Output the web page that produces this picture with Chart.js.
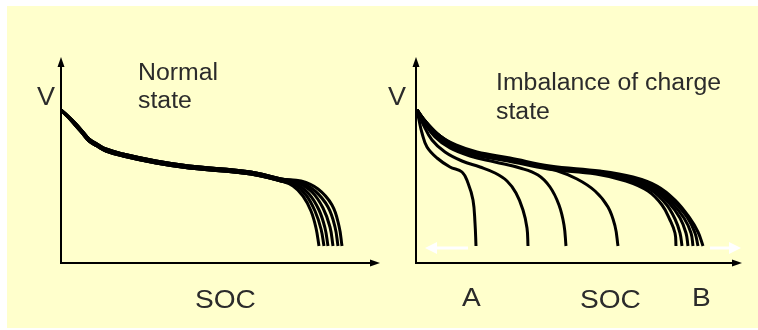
<!DOCTYPE html>
<html>
<head>
<meta charset="utf-8">
<script src="https://cdn.jsdelivr.net/npm/chart.js@4.4.0/dist/chart.umd.min.js"></script>
<style>
    body { margin: 0; background: #fff; }
    #frame { position: relative; width: 758px; height: 330px; overflow: hidden; }
    #paper { position: absolute; left: 7px; top: 6px; width: 751px; height: 322px; background: #ffffcc; }
    #leftBox { position: absolute; left: 0; top: 0; width: 390px; height: 330px; }
    #rightBox { position: absolute; left: 379px; top: 0; width: 379px; height: 330px; }
</style>
</head>
<body>
<div id="frame">
    <div id="paper"></div>
    <div id="leftBox"><canvas id="normalChart"></canvas></div>
    <div id="rightBox"><canvas id="imbalanceChart"></canvas></div>
</div>
<script>
// SOC and V in arbitrary units, [soc, volt]
// normal state: six cells, same curve, small spread at the end
let normalHeadLow = [[0,153],[7,146],[15,137],[22,129],[28,122],[36,117],[45,112],[62,107],[95,100],[128,95],[162,92],[195,88],[220,82]];
let normalHeadHigh = [[0,153],[7,147],[15,139],[22,131],[28,124],[36,119],[45,114],[62,109],[95,102],[128,97],[162,94],[195,90],[220,84]];
let normalTails = [
    [[232,77],[242,67],[250,52],[255,35],[258,17]],
    [[234,78],[245,68],[254,52],[260,34],[263,17]],
    [[235,79],[248,69],[258,53],[264,35],[267,17]],
    [[237,80],[251,71],[262,55],[269,36],[272,17]],
    [[238,81],[254,72],[267,56],[274,36],[277,17]],
    [[240,82],[257,74],[271,58],[278,37],[281,17]]
];

// imbalance: cells run out at different SOC
let cellA = [[1,153],[3,143],[6,130],[11,116],[21,105],[34,96],[46,91],[52,80],[57,63],[59,40],[60,17]];
let cell2 = [[1,153],[7,139],[16,123],[29,111],[46,102],[64,96],[79,90],[91,82],[100,70],[107,53],[111,35],[112,17]];
let cell3 = [[1,153],[8,141],[19,126],[34,115],[54,107],[79,101],[104,95],[122,88],[134,76],[143,58],[148,38],[150,17]];
let cell4 = [[1,153],[9,142],[21,128],[36,117],[56,110],[84,104],[114,99],[139,93],[161,84],[179,72],[192,56],[199,37],[202,17]];
let cellsB = [
    [[1,153],[9,139],[22,125],[38,115],[59,108],[92,102],[132,94],[180,89],[210,82],[232,72],[246,58],[254,43],[259,30],[260,17]],
    [[1,153],[9,140],[23,126],[38,116],[60,109],[92,103],[132,95],[181,90],[212,83],[235,73],[250,59],[259,44],[264,30],[266,17]],
    [[1,153],[10,140],[23,126],[39,116],[60,109],[93,103],[133,95],[182,90],[214,84],[237,74],[253,60],[264,45],[270,30],[272,17]],
    [[1,153],[10,141],[24,127],[39,117],[61,110],[93,104],[133,96],[183,91],[215,85],[239,75],[255,61],[268,45],[275,30],[277,17]],
    [[1,153],[10,141],[24,127],[40,117],[61,110],[94,104],[134,96],[184,91],[216,85],[240,76],[257,62],[271,46],[279,30],[282,17]],
    [[1,153],[10,141],[24,127],[40,118],[61,111],[94,105],[134,97],[184,92],[217,86],[241,77],[259,63],[273,46],[282,31],[287,17]]
];

// white arrows under the curves: [fromSoc, toSoc, volt]
let arrowToA = [52, 9, 15];
let arrowToB = [294, 325, 15];

function curve(data) {
    return {
        data: data,
        borderColor: "#000",
        borderWidth: 3,
        pointRadius: 0,
        fill: false,
        tension: 0.4
    };
}

function axis(max, isX) {
    return {
        type: "linear",
        min: 0,
        max: max,
        grid: { display: false, drawTicks: false },
        ticks: { display: false },
        border: { display: true, color: "#000", width: 2 },
        afterFit: (scale) => {
            if (isX) scale.height = 0; else scale.width = 0;
        }
    };
}

function arrowHead(ctx, x, y, angle, len, half, color) {
    ctx.save();
    ctx.translate(x, y);
    ctx.rotate(angle);
    ctx.beginPath();
    ctx.moveTo(0, 0);
    ctx.lineTo(-len, -half);
    ctx.lineTo(-len, half);
    ctx.closePath();
    ctx.fillStyle = color;
    ctx.fill();
    ctx.restore();
}

// axis arrows, white arrows and the labels
let sketchPlugin = {
    id: "sketch",
    afterDraw(chart, args, opts) {
        let ctx = chart.ctx;
        let area = chart.chartArea;
        arrowHead(ctx, area.left, area.top - 7, -Math.PI / 2, 10, 3.5, "#000");
        arrowHead(ctx, area.right + 7, area.bottom, 0, 10, 3.5, "#000");

        (opts.arrows || []).forEach((a) => {
            let x1 = chart.scales.x.getPixelForValue(a[0]);
            let x2 = chart.scales.x.getPixelForValue(a[1]);
            let y = chart.scales.y.getPixelForValue(a[2]);
            let dir = x2 > x1 ? 1 : -1;
            ctx.save();
            ctx.strokeStyle = "#fff";
            ctx.lineWidth = 3;
            ctx.beginPath();
            ctx.moveTo(x1, y);
            ctx.lineTo(x2 - dir * 10, y);
            ctx.stroke();
            ctx.restore();
            arrowHead(ctx, x2, y, dir > 0 ? 0 : Math.PI, 12, 6, "#fff");
        });

        ctx.save();
        ctx.fillStyle = "#2b2b2b";
        ctx.textBaseline = "alphabetic";
        ctx.textAlign = "left";
        opts.labels.forEach((l) => {
            ctx.save();
            ctx.font = l.size + "px 'Liberation Sans', Arial, sans-serif";
            ctx.translate(l.x, l.y);
            ctx.scale(1.08, 1);
            ctx.fillText(l.text, 0, 0);
            ctx.restore();
        });
        ctx.restore();
    }
};

function normalSets() {
    let sets = [];
    for (let k = 0; k < normalTails.length; k++) {
        let head = k < 3 ? normalHeadLow : normalHeadHigh;
        sets.push(curve(head.concat(normalTails[k])));
    }
    return sets;
}

new Chart("normalChart", {
    type: "line",
    data: { datasets: normalSets() },
    options: {
        responsive: true,
        maintainAspectRatio: false,
        animation: false,
        layout: { padding: { left: 61, right: 17, top: 64, bottom: 67 } },
        scales: { x: axis(312, true), y: axis(199, false) },
        plugins: {
            legend: { display: false },
            tooltip: { enabled: false },
            sketch: {
                labels: [
                    { text: "V", x: 37, y: 105, size: 25 },
                    { text: "Normal", x: 138, y: 80, size: 23 },
                    { text: "state", x: 138, y: 108, size: 23 },
                    { text: "SOC", x: 195, y: 308, size: 26 }
                ]
            }
        }
    },
    plugins: [sketchPlugin]
});

new Chart("imbalanceChart", {
    type: "line",
    data: { datasets: [cellA, cell2, cell3, cell4].concat(cellsB).map(curve) },
    options: {
        responsive: true,
        maintainAspectRatio: false,
        animation: false,
        layout: { padding: { left: 37, right: 23, top: 64, bottom: 67 } },
        scales: { x: axis(319, true), y: axis(199, false) },
        plugins: {
            legend: { display: false },
            tooltip: { enabled: false },
            sketch: {
                arrows: [arrowToA, arrowToB],
                labels: [
                    { text: "V", x: 9, y: 105, size: 25 },
                    { text: "Imbalance of charge", x: 117, y: 90, size: 23 },
                    { text: "state", x: 117, y: 119, size: 23 },
                    { text: "A", x: 83, y: 306, size: 26 },
                    { text: "SOC", x: 201, y: 308, size: 26 },
                    { text: "B", x: 313, y: 306, size: 26 }
                ]
            }
        }
    },
    plugins: [sketchPlugin]
});
</script>
</body>
</html>
